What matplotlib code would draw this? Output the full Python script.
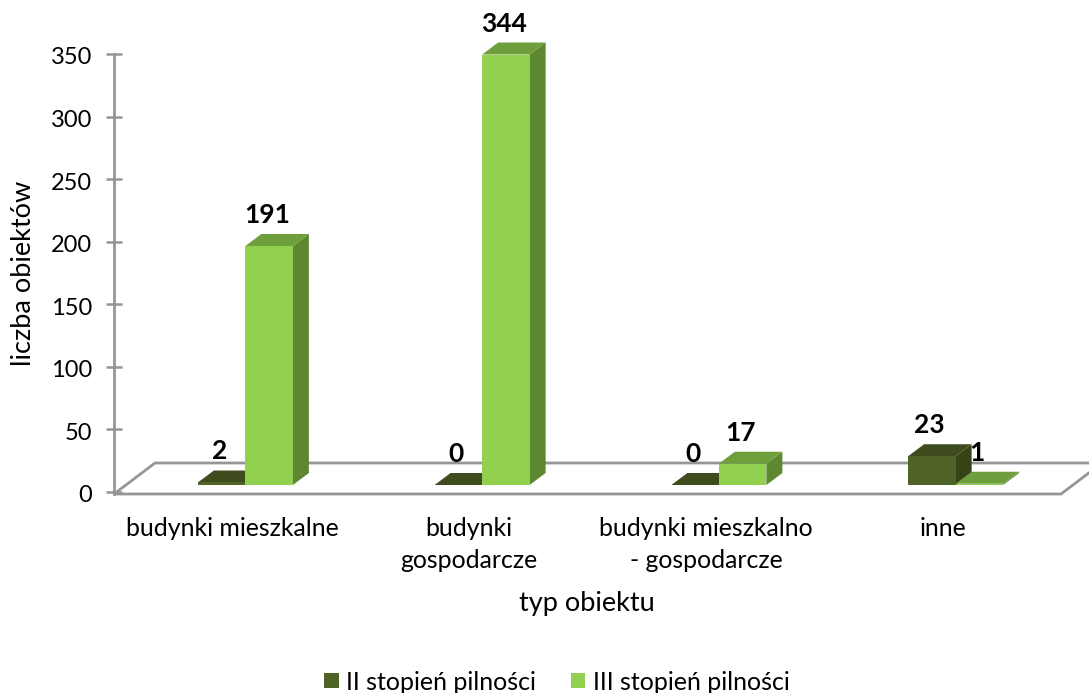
import matplotlib
matplotlib.use("Agg")
import matplotlib.pyplot as plt
from matplotlib.patches import Polygon, Rectangle
from matplotlib.transforms import Affine2D

categories = ["budynki mieszkalne", "budynki\ngospodarcze", "budynki mieszkalno\n- gospodarcze", "inne"]
series_names = ["II stopień pilności", "III stopień pilności"]
values_ii = [2, 0, 0, 23]
values_iii = [191, 344, 17, 1]
y_ticks = [0, 50, 100, 150, 200, 250, 300, 350]

W, H = 1089, 693
plt.rcParams["font.family"] = ["Lato", "DejaVu Sans"]
FS_NUM = 17
FS_CAT = 17.9
FS_LEG = 18
FS_TITLE = 19.5
BAR_FS = 19
GRAY = "#969696"
COL_II = dict(front="#4F6228", top="#3F4C1E", side="#374316")
COL_III = dict(front="#92D050", top="#6F9E3D", side="#5E8731")

fig = plt.figure(figsize=(W / 100, H / 100), dpi=100)
L, R, T, B = 114, 1061, 54, 492
ax = fig.add_axes([L / W, (H - B) / H, (R - L) / W, (B - T) / H])
ax.set_xlim(-0.5, 3.5)
ax.set_ylim(0, 350)

PXX = 4 / (R - L)          # data units per pixel, x
PXY = 350 / (B - T)        # data units per pixel, y
bar_w = 47.5 * PXX
shift_x, base_y = 13 * PXX, 7 * PXY
dep_x, dep_y = 16 * PXX, 12 * PXY

# floor
fy = -2 * PXY
floor = Polygon([(-0.5, fy), (-0.5 + 41 * PXX, fy + 31 * PXY),
                 (3.5 + 41 * PXX, fy + 31 * PXY), (3.5, fy)],
                closed=True, fc="white", ec=GRAY, lw=2.0, clip_on=False, zorder=1)
ax.add_patch(floor)


def draw_series(vals, offset, col, z):
    for i, v in enumerate(vals):
        x0 = i + shift_x + offset
        x1 = x0 + bar_w
        y0 = base_y
        y1 = base_y + v
        ax.add_patch(Polygon([(x1, y0), (x1 + dep_x, y0 + dep_y), (x1 + dep_x, y1 + dep_y), (x1, y1)],
                             fc=col["side"], ec="none", clip_on=False, zorder=z))
        ax.add_patch(Polygon([(x0, y1), (x0 + dep_x, y1 + dep_y), (x1 + dep_x, y1 + dep_y), (x1, y1)],
                             fc=col["top"], ec="none", clip_on=False, zorder=z))
        ax.bar(x0, v, width=bar_w, bottom=y0, align="edge", color=col["front"], clip_on=False, zorder=z)
        ax.annotate(str(v), xy=(x0 + bar_w / 2, y1), xytext=(-1.5, 31 * 0.72),
                    textcoords="offset points", ha="center", va="center",
                    fontsize=BAR_FS, fontweight="bold", color="black", zorder=10,
                    annotation_clip=False)


draw_series(values_ii, -bar_w, COL_II, 3)
draw_series(values_iii, 0, COL_III, 4)

for s in ["top", "right", "bottom"]:
    ax.spines[s].set_visible(False)
ax.spines["left"].set_color(GRAY)
ax.spines["left"].set_linewidth(2.0)
ax.spines["left"].set_bounds(fy, 350)
ax.spines["left"].set_zorder(2)

ax.set_yticks(y_ticks)
ax.tick_params(axis="y", direction="inout", length=11.5, width=1.8, color=GRAY,
               labelsize=FS_NUM, pad=10)
for lab in ax.get_yticklabels():
    lab.set_transform(lab.get_transform() + Affine2D().translate(0, -2))
ax.set_xticks(range(len(categories)))
ax.set_xticklabels(categories, fontsize=FS_CAT, linespacing=1.5)
ax.tick_params(axis="x", length=0, pad=18)

fig.text(587 / W, 1 - 604 / H, "typ obiektu", ha="center", va="center", fontsize=FS_TITLE)
fig.text(24 / W, 1 - 273 / H, "liczba obiektów", ha="center", va="center", rotation=90, fontsize=FS_TITLE)

handles = [Rectangle((0, 0), 1, 1, fc=COL_II["front"], ec="none"),
           Rectangle((0, 0), 1, 1, fc=COL_III["front"], ec="none")]
fig.legend(handles, series_names, loc="center", bbox_to_anchor=(557 / W, 1 - 682 / H),
           ncol=2, frameon=False, fontsize=FS_LEG, handlelength=0.57, handleheight=0.57,
           handletextpad=0.3, columnspacing=1.4, borderpad=0)

fig.savefig("out.png", dpi=100)
